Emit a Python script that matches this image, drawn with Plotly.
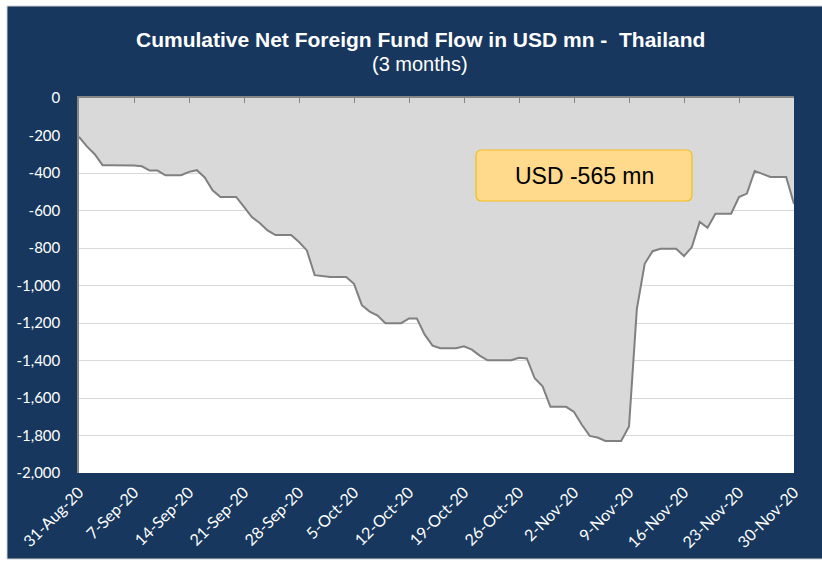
import pandas as pd
import plotly.graph_objects as go

# ---- data ----
start_date = "2020-08-31"
flow_values = [
    -207, -258, -300, -358, -358, -358, -358, -360, -364, -387,
    -387, -412, -412, -412, -394, -385, -424, -492, -528, -528,
    -528, -581, -635, -667, -706, -731, -731, -731, -768, -813,
    -945, -952, -955, -955, -955, -991, -1105, -1139, -1160, -1201,
    -1201, -1201, -1176, -1176, -1262, -1321, -1335, -1335, -1335, -1324,
    -1342, -1374, -1399, -1399, -1399, -1399, -1385, -1389, -1495, -1538,
    -1647, -1647, -1647, -1674, -1743, -1802, -1811, -1829, -1829, -1829,
    -1752, -1125, -884, -817, -804, -804, -804, -843, -795, -661,
    -692, -617, -617, -617, -528, -510, -389, -405, -421, -421,
    -421, -565,
]
dates = pd.date_range(start_date, periods=len(flow_values), freq="D")
x_tick_dates = pd.date_range(start_date, dates[-1], freq="7D")
x_tick_labels = [f"{d.day}-{d.strftime('%b')}-{d.strftime('%y')}" for d in x_tick_dates]
y_tick_vals = [0, -200, -400, -600, -800, -1000, -1200, -1400, -1600, -1800, -2000]
y_tick_labels = [f"{v:,}" for v in y_tick_vals]
title_text = "Cumulative Net Foreign Fund Flow in USD mn -  Thailand"
subtitle_text = "(3 months)"
callout_text = "USD -565 mn"

NAVY = "#17375E"
W, H = 822, 562
L, R, T, B = 79, 28, 98, 89
PW, PH = W - L - R, H - T - B

def px(x):
    return (x - L) / PW

def py(y):
    return (H - B - y) / PH

fig = go.Figure()
fig.add_trace(go.Scatter(
    x=dates, y=flow_values, mode="lines",
    line=dict(color="#808080", width=2),
    fill="tozeroy", fillcolor="#D9D9D9",
    hoverinfo="x+y", showlegend=False,
))
# invisible trace to carry the top axis (tick marks at value 0)
fig.add_trace(go.Scatter(
    x=[dates[0], dates[-1]], y=[None, None], mode="lines",
    xaxis="x2", yaxis="y", showlegend=False, hoverinfo="skip",
))

xr = [dates[0], dates[-1]]

bx0, bx1, by0, by1, rr = 476, 692, 150, 201, 6

def rounded_rect(x0, y0, x1, y1, r):
    return (
        f"M {px(x0 + r)},{py(y0)} L {px(x1 - r)},{py(y0)} "
        f"Q {px(x1)},{py(y0)} {px(x1)},{py(y0 + r)} "
        f"L {px(x1)},{py(y1 - r)} Q {px(x1)},{py(y1)} {px(x1 - r)},{py(y1)} "
        f"L {px(x0 + r)},{py(y1)} Q {px(x0)},{py(y1)} {px(x0)},{py(y1 - r)} "
        f"L {px(x0)},{py(y0 + r)} Q {px(x0)},{py(y0)} {px(x0 + r)},{py(y0)} Z"
    )

shapes = [
    dict(type="rect", xref="paper", yref="paper",
         x0=px(7), x1=px(823), y0=py(559), y1=py(6),
         fillcolor=NAVY, line=dict(color="#D0D0D0", width=1), layer="below"),
    dict(type="rect", xref="paper", yref="paper",
         x0=0, x1=1, y0=0, y1=1,
         fillcolor="white", line=dict(width=0), layer="below"),
    dict(type="path", xref="paper", yref="paper",
         path=rounded_rect(bx0, by0, bx1, by1, rr),
         fillcolor="#FFDA8C", line=dict(color="#F5BD1F", width=1.2), layer="above"),
]

annotations = [
    dict(text=f"<b>{title_text}</b>", xref="paper", yref="paper",
         x=px(420), y=py(40), showarrow=False,
         font=dict(family="Liberation Sans, Arial", size=21, color="white"),
         xanchor="center", yanchor="middle"),
    dict(text=subtitle_text, xref="paper", yref="paper",
         x=px(420), y=py(64), showarrow=False,
         font=dict(family="Liberation Sans, Arial", size=20, color="white"),
         xanchor="center", yanchor="middle"),
    dict(text=callout_text, xref="paper", yref="paper",
         x=px((bx0 + bx1) / 2), y=py((by0 + by1) / 2), showarrow=False,
         font=dict(family="Liberation Sans, Arial", size=23, color="black"),
         xanchor="center", yanchor="middle"),
]

fig.update_layout(
    width=W, height=H,
    margin=dict(l=L, r=R, t=T, b=B),
    paper_bgcolor="white",
    plot_bgcolor="rgba(0,0,0,0)",
    showlegend=False,
    shapes=shapes,
    annotations=annotations,
    xaxis=dict(
        range=xr, tickvals=list(x_tick_dates), ticktext=x_tick_labels,
        tickangle=-45, showgrid=False, showline=False, zeroline=False,
        ticks="", ticklabelstandoff=6,
        tickfont=dict(family="Lato, Open Sans", size=16, color="white"),
        side="bottom",
    ),
    xaxis2=dict(
        range=xr, overlaying="x", side="top", anchor="y",
        tickvals=list(x_tick_dates), showticklabels=False,
        ticks="inside", ticklen=5, tickcolor="#868686", tickwidth=1,
        showline=True, linecolor="#868686", linewidth=1.5,
        showgrid=False, zeroline=False,
    ),
    yaxis=dict(
        range=[-2000, 0], tickvals=y_tick_vals, ticktext=y_tick_labels,
        showgrid=True, gridcolor="#D9D9D9", gridwidth=1,
        zeroline=False, showline=True, linecolor="#868686", linewidth=1.5,
        ticks="", ticklabelstandoff=14,
        tickfont=dict(family="Lato, Open Sans", size=15, color="white"),
    ),
)

fig.write_html(
    "out.html",
    config={"displayModeBar": False},
    post_script="document.body.style.margin='0';document.body.style.overflow='hidden';",
)
